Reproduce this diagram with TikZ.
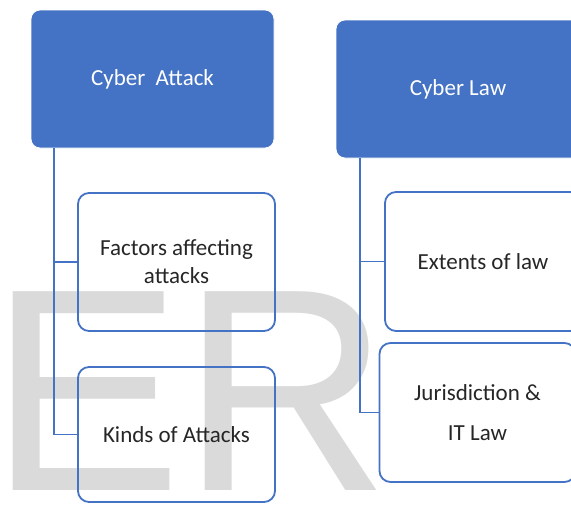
\documentclass[tikz,border=0pt]{standalone}
\usepackage{fontspec}
\setmainfont{Carlito}
\newfontfamily\markfont{Liberation Sans}
\usepackage{xcolor}
\usepackage{tikz}
\usetikzlibrary{positioning}
\definecolor{hdblue}{HTML}{4472C4}
\definecolor{mark}{HTML}{DADADA}
\tikzset{
  headblock/.style = {draw=white, fill=hdblue, rounded corners=9pt,
                      align=center, text=white, line width=0.8pt,
                      font=\fontsize{23}{28}\selectfont},
  subblock/.style  = {draw=hdblue, rounded corners=11pt, align=center,
                      text=black!85, line width=1.8pt,
                      font=\fontsize{23}{28}\selectfont},
  link/.style      = {draw=hdblue, line width=1.8pt},
}

\begin{document}
\begin{tikzpicture}[x=1pt, y=-1pt]

    % page frame
    \useasboundingbox (0,0) rectangle (571,504);
    \clip (0,0) rectangle (571,504);

    % --- WATERMARK ---
    \node[anchor=base west, inner sep=0pt, text=mark,
          font=\markfont\fontsize{289}{289}\selectfont] (wm) at (-11, 490) {ER};

    % --- LEFT: CYBER ATTACK ---
    \node[headblock, minimum width=243pt, minimum height=138pt] (attack) at (152.5, 79) {Cyber~~Attack};
    \node[subblock, minimum width=197pt, minimum height=138pt] (factors) at (176.5, 262) {Factors affecting\\attacks};
    \node[subblock, minimum width=197pt, minimum height=135pt] (kinds) at (176.5, 434.5) {Kinds of Attacks};

    \draw[link] ([xshift=23pt]attack.south west) |- (factors.west);
    \draw[link] ([xshift=23pt]attack.south west) |- (kinds.west);

    % --- RIGHT: CYBER LAW ---
    \node[headblock, minimum width=244pt, minimum height=138pt] (law) at (458, 89) {Cyber Law};
    \node[subblock, minimum width=196pt, minimum height=139pt] (extents) at (483, 261.5) {Extents of law};
    \node[subblock, minimum width=196pt, minimum height=139pt] (juris) at (477.5, 412.5) {Jurisdiction \&\\[12pt]IT Law};

    \draw[link] ([xshift=24pt]law.south west) |- (extents.west);
    \draw[link] ([xshift=24pt]law.south west) |- (juris.west);

\end{tikzpicture}
\end{document}
